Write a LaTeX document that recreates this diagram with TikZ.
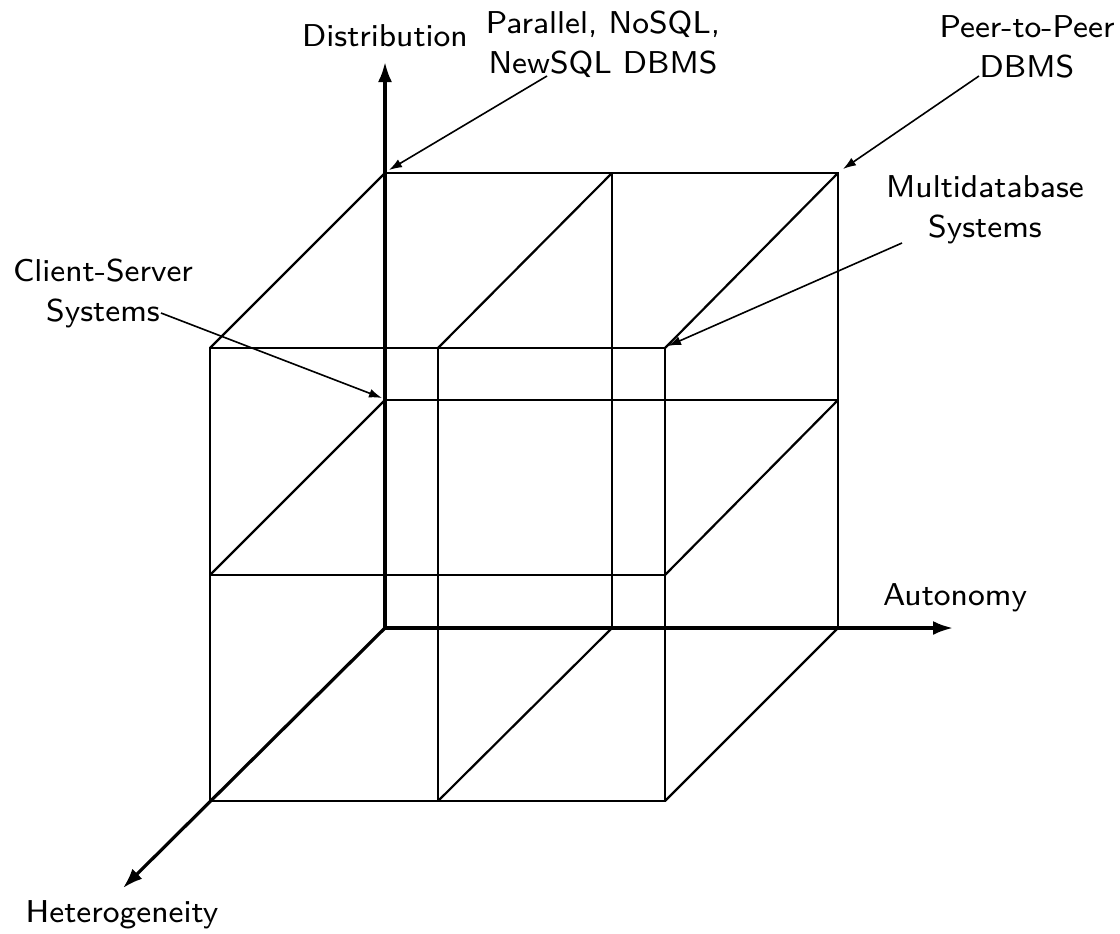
\documentclass[tikz,border=0pt]{standalone}
\usepackage{fontspec}
\usetikzlibrary{arrows.meta}
\newfontfamily\lblfont{lmsans8-regular.otf}
\begin{document}
\begin{tikzpicture}[x=0.5pt,y=-0.5pt,
  lbl/.style={font=\lblfont\fontsize{15.8}{20}\selectfont, inner sep=0pt, align=center},
  axis/.style={line width=1.6pt, -{Latex[length=10pt,width=7pt]}},
  edge/.style={line width=1.1pt},
  callout/.style={line width=0.8pt, -{Latex[length=6.5pt,width=4.5pt]}}]
\useasboundingbox (0,0) rectangle (1120,933);

% back face (heterogeneity = 0)
\coordinate (O)   at (385,628);
\coordinate (bTL) at (385,173);
\coordinate (bTM) at (612,173);
\coordinate (bTR) at (838,173);
\coordinate (bML) at (385,400);
\coordinate (bMR) at (838,400);
\coordinate (bBM) at (612,628);
\coordinate (bBR) at (838,628);
% front face
\coordinate (fTL) at (210,348);
\coordinate (fTM) at (438,348);
\coordinate (fTR) at (665,348);
\coordinate (fML) at (210,575);
\coordinate (fMR) at (665,575);
\coordinate (fBL) at (210,801);
\coordinate (fBM) at (438,801);
\coordinate (fBR) at (665,801);
% axis tips
\coordinate (dTip) at (385,62);
\coordinate (aTip) at (953,628);
\coordinate (hTip) at (123,888);

% cube edges
\draw[edge] (bTL) -- (bTR) -- (bBR);
\draw[edge] (bTM) -- (bBM);
\draw[edge] (bML) -- (bMR);
\draw[edge] (fTL) rectangle (fBR);
\draw[edge] (fTM) -- (fBM);
\draw[edge] (fML) -- (fMR);
\draw[edge] (bTL) -- (fTL);
\draw[edge] (bTM) -- (fTM);
\draw[edge] (bTR) -- (fTR);
\draw[edge] (bML) -- (fML);
\draw[edge] (bMR) -- (fMR);
\draw[edge] (bBM) -- (fBM);
\draw[edge] (bBR) -- (fBR);

% axes
\draw[axis] (O) -- (dTip);
\draw[axis] (O) -- (aTip);
\draw[axis] (O) -- (hTip);

% axis labels
\node[lbl, anchor=base] (dist) at (385,46) {Distribution};
\node[lbl, anchor=base] (auto) at (955,605) {Autonomy};
\node[lbl, anchor=base] (het) at (122,922) {Heterogeneity};

% system labels
\node[lbl, anchor=north] (par) at (603,10) {Parallel, NoSQL,\\NewSQL DBMS};
\node[lbl, anchor=north] (p2p) at (1027,15) {Peer-to-Peer\\DBMS};
\node[lbl, anchor=north] (mdb) at (985,175) {Multidatabase\\Systems};
\node[lbl, anchor=north] (cs) at (103,258) {Client-Server\\Systems};

% callout arrows
\coordinate (parFrom) at (547,76);
\coordinate (p2pFrom) at (979,76);
\coordinate (mdbFrom) at (902,243);
\coordinate (csFrom)  at (161,313);
\draw[callout] (parFrom) -- ([shift={(4,-3)}]bTL);
\draw[callout] (p2pFrom) -- ([shift={(5,-4)}]bTR);
\draw[callout] (mdbFrom) -- ([shift={(3,-2)}]fTR);
\draw[callout] (csFrom)  -- ([shift={(-3,-2)}]bML);
\end{tikzpicture}
\end{document}
